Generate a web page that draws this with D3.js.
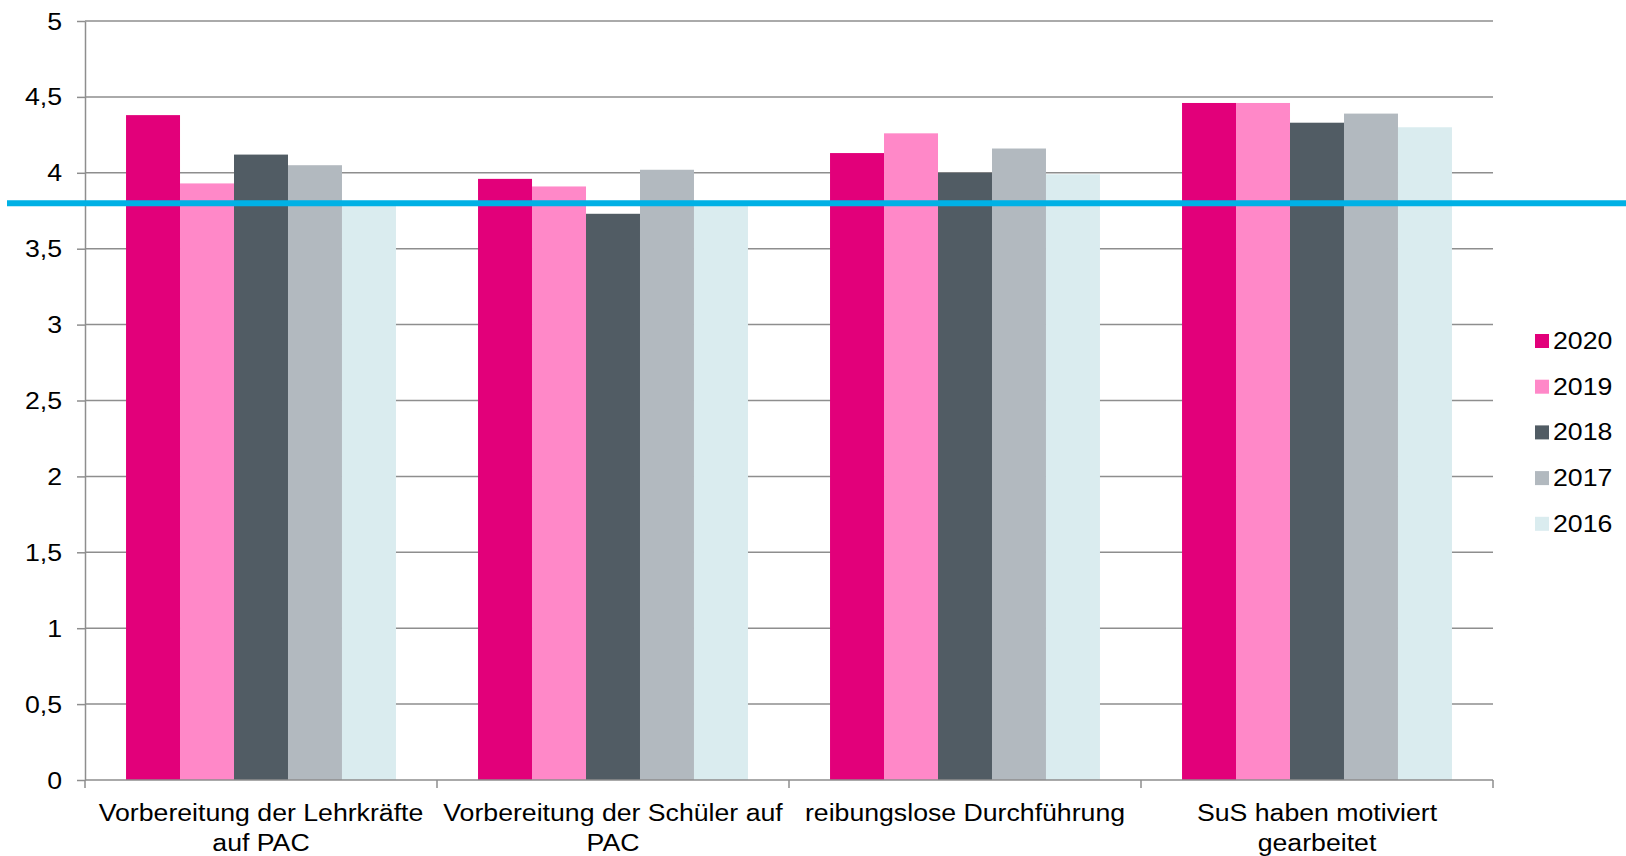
<!DOCTYPE html>
<html>
<head>
<meta charset="utf-8">
<script src="https://cdn.jsdelivr.net/npm/d3@7"></script>
<style>
  html, body { margin: 0; padding: 0; background: #fff; }
  svg { display: block; font-family: "Liberation Sans", Arial, sans-serif; }
</style>
</head>
<body>
<div id="chart"></div>
<script>
// chart data
const categories = [
  'Vorbereitung der Lehrkräfte auf PAC',
  'Vorbereitung der Schüler auf PAC',
  'reibungslose Durchführung',
  'SuS haben motiviert gearbeitet'
];
const labelLines = [
  ['Vorbereitung der Lehrkräfte', 'auf PAC'],
  ['Vorbereitung der Schüler auf', 'PAC'],
  ['reibungslose Durchführung'],
  ['SuS haben motiviert', 'gearbeitet']
];
const years = ['2020', '2019', '2018', '2017', '2016'];
const values2020 = [4.38, 3.96, 4.13, 4.46];
const values2019 = [3.93, 3.91, 4.26, 4.46];
const values2018 = [4.12, 3.73, 4.00, 4.33];
const values2017 = [4.05, 4.02, 4.16, 4.39];
const values2016 = [3.79, 3.79, 3.99, 4.30];
const seriesValues = [values2020, values2019, values2018, values2017, values2016];
const colors = ['#e2007a', '#ff88c8', '#515c64', '#b2b9bf', '#daecef'];
const yTicks = [0, 0.5, 1, 1.5, 2, 2.5, 3, 3.5, 4, 4.5, 5];
const referenceValue = 3.8;

const width = 1626, height = 856;
const margin = { top: 21, right: 133, bottom: 76, left: 85 };
const stretch = 1.16; // text in the picture is slightly wide

const svg = d3.select('#chart')
  .append('svg')
  .attr('width', width)
  .attr('height', height);

const x0 = d3.scaleBand()
  .domain(categories)
  .range([margin.left, width - margin.right])
  .padding(0);

const x1 = d3.scaleBand()
  .domain(years)
  .range([0, x0.bandwidth()])
  .paddingInner(0)
  .paddingOuter(0.76);

const y = d3.scaleLinear()
  .domain([0, 5])
  .range([height - margin.bottom, margin.top]);

// gridlines
svg.append('g')
  .selectAll('line')
  .data(yTicks.filter(d => d > 0))
  .join('line')
  .attr('x1', margin.left)
  .attr('x2', width - margin.right)
  .attr('y1', d => y(d))
  .attr('y2', d => y(d))
  .attr('stroke', '#8e8e8e')
  .attr('stroke-width', 1.5);

// bars
const groups = svg.append('g')
  .selectAll('g')
  .data(categories)
  .join('g')
  .attr('transform', d => `translate(${x0(d)},0)`);

groups.selectAll('rect')
  .data((d, i) => years.map((yr, s) => ({ yr, s, v: seriesValues[s][i] })))
  .join('rect')
  .attr('x', d => x1(d.yr))
  .attr('width', x1.bandwidth())
  .attr('y', d => y(d.v))
  .attr('height', d => y(0) - y(d.v))
  .attr('fill', d => colors[d.s]);

// y axis
const yAxis = svg.append('g')
  .attr('transform', `translate(${margin.left},0)`)
  .call(d3.axisLeft(y).tickValues(yTicks).tickSize(8).tickSizeOuter(0)
    .tickFormat(d => String(d).replace('.', ',')));
yAxis.select('.domain').attr('stroke', '#8e8e8e').attr('stroke-width', 1.5);
yAxis.selectAll('.tick line').attr('stroke', '#8e8e8e').attr('stroke-width', 1.5);
yAxis.selectAll('.tick text')
  .attr('x', -23 / stretch)
  .attr('dy', '0.35em')
  .attr('transform', `scale(${stretch},1)`)
  .attr('fill', '#000')
  .style('font-size', '23px')
  .style('font-family', '"Liberation Sans", Arial, sans-serif');

// x axis line and boundary ticks
const xAxis = svg.append('g');
xAxis.append('line')
  .attr('x1', margin.left)
  .attr('x2', width - margin.right)
  .attr('y1', y(0))
  .attr('y2', y(0))
  .attr('stroke', '#8e8e8e')
  .attr('stroke-width', 1.5);
const bounds = categories.map(c => x0(c)).concat([x0.range()[1]]);
xAxis.selectAll('.xtick')
  .data(bounds)
  .join('line')
  .attr('class', 'xtick')
  .attr('x1', d => d)
  .attr('x2', d => d)
  .attr('y1', y(0))
  .attr('y2', y(0) + 8)
  .attr('stroke', '#8e8e8e')
  .attr('stroke-width', 1.5);

// category labels
categories.forEach((c, i) => {
  const cx = x0(c) + x0.bandwidth() / 2;
  labelLines[i].forEach((line, j) => {
    svg.append('text')
      .attr('transform', `translate(${cx},${821 + j * 30}) scale(${stretch},1)`)
      .attr('text-anchor', 'middle')
      .style('font-size', '23px')
      .attr('fill', '#000')
      .text(line);
  });
});

// reference line
svg.append('line')
  .attr('x1', 7)
  .attr('x2', width)
  .attr('y1', y(referenceValue))
  .attr('y2', y(referenceValue))
  .attr('stroke', '#00b1e5')
  .attr('stroke-width', 6);

// legend
const legend = svg.append('g')
  .attr('transform', 'translate(1535,341)');
const items = legend.selectAll('g')
  .data(years)
  .join('g')
  .attr('transform', (d, i) => `translate(0,${i * 45.7})`);
items.append('rect')
  .attr('x', 0)
  .attr('y', -7)
  .attr('width', 14)
  .attr('height', 14)
  .attr('fill', (d, i) => colors[i]);
items.append('text')
  .attr('transform', `translate(18,0) scale(${stretch},1)`)
  .attr('dy', '0.35em')
  .style('font-size', '23px')
  .attr('fill', '#000')
  .text(d => d);
</script>
</body>
</html>
